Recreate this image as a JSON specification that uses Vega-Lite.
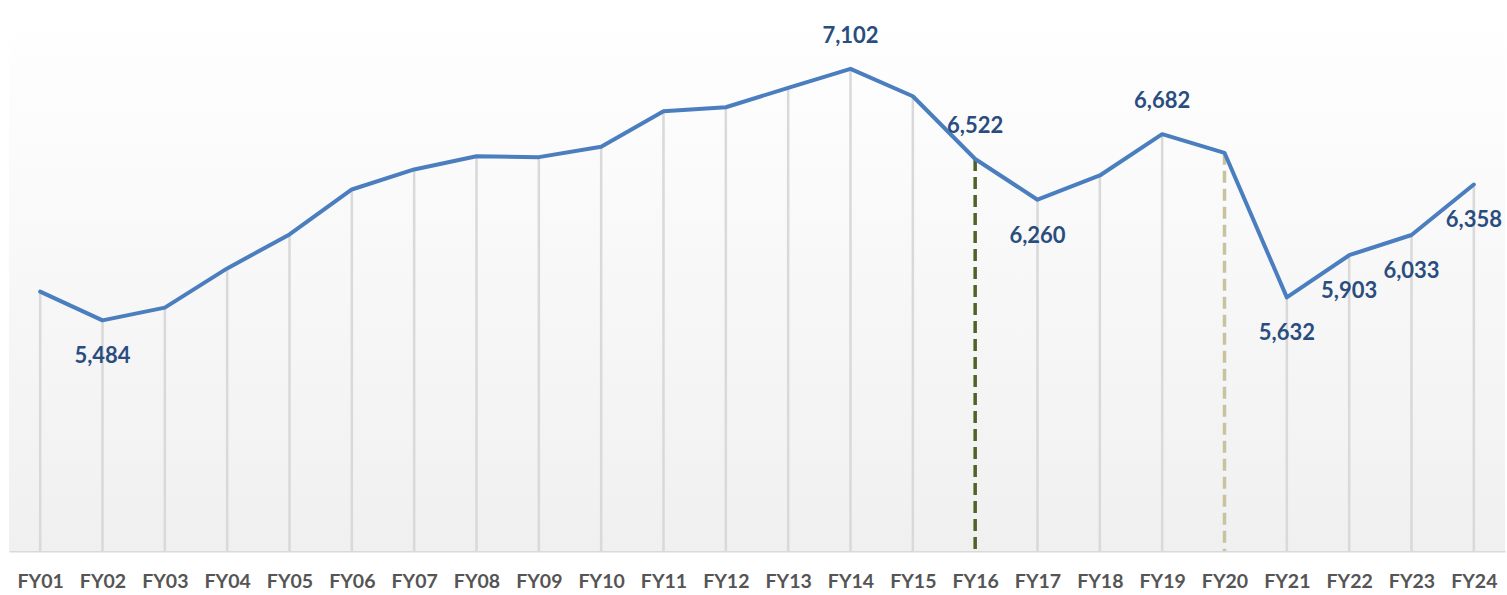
{
  "$schema": "https://vega.github.io/schema/vega-lite/v6.json",
  "width": 1496,
  "height": 544,
  "autosize": {"type": "none"},
  "padding": {"left": 9, "top": 7, "right": 2, "bottom": 44},
  "background": "#FFFFFF",
  "config": {"view": {"stroke": null}},
  "data": {
    "values": [
      {"fy": "FY01", "value": 5669},
      {"fy": "FY02", "value": 5484},
      {"fy": "FY03", "value": 5566},
      {"fy": "FY04", "value": 5818},
      {"fy": "FY05", "value": 6037},
      {"fy": "FY06", "value": 6326},
      {"fy": "FY07", "value": 6455},
      {"fy": "FY08", "value": 6540},
      {"fy": "FY09", "value": 6534},
      {"fy": "FY10", "value": 6601},
      {"fy": "FY11", "value": 6829},
      {"fy": "FY12", "value": 6855},
      {"fy": "FY13", "value": 6980},
      {"fy": "FY14", "value": 7102},
      {"fy": "FY15", "value": 6926},
      {"fy": "FY16", "value": 6522},
      {"fy": "FY17", "value": 6260},
      {"fy": "FY18", "value": 6416},
      {"fy": "FY19", "value": 6682},
      {"fy": "FY20", "value": 6562},
      {"fy": "FY21", "value": 5632},
      {"fy": "FY22", "value": 5903},
      {"fy": "FY23", "value": 6033},
      {"fy": "FY24", "value": 6358}
    ]
  },
  "encoding": {
    "x": {
      "field": "fy",
      "type": "ordinal",
      "scale": {"type": "point", "padding": 0.5},
      "axis": {
        "title": null,
        "ticks": false,
        "grid": false,
        "domainColor": "#D9D9D9",
        "domainWidth": 2,
        "labelAngle": 0,
        "labelPadding": 21,
        "labelFont": "Lato",
        "labelFontWeight": "bold",
        "labelFontSize": 19.5,
        "labelColor": "#555555"
      }
    }
  },
  "layer": [
    {
      "data": {"values": [{}]},
      "mark": {
        "type": "rect",
        "color": {
          "gradient": "linear",
          "x1": 0, "y1": 0, "x2": 0, "y2": 1,
          "stops": [
            {"offset": 0, "color": "#FFFFFF"},
            {"offset": 1, "color": "#F0F0F0"}
          ]
        }
      },
      "encoding": {
        "x": {"value": 0},
        "x2": {"value": "width"},
        "y": {"value": 0},
        "y2": {"value": "height"}
      }
    },
    {
      "transform": [{"filter": {"not": {"field": "fy", "oneOf": ["FY16", "FY20"]}}}],
      "mark": {"type": "rule", "color": "#D9D9D9", "strokeWidth": 2.5},
      "encoding": {
        "y": {"field": "value", "type": "quantitative", "scale": {"domain": [4000, 7500], "nice": false, "zero": false}, "axis": null},
        "y2": {"datum": 4000}
      }
    },
    {
      "transform": [{"filter": {"field": "fy", "equal": "FY16"}}],
      "mark": {"type": "rule", "color": "#4F6228", "strokeWidth": 3.5, "strokeDash": [12, 6]},
      "encoding": {
        "y": {"field": "value", "type": "quantitative"},
        "y2": {"datum": 4000}
      }
    },
    {
      "transform": [{"filter": {"field": "fy", "equal": "FY20"}}],
      "mark": {"type": "rule", "color": "#C9C29E", "strokeWidth": 3.5, "strokeDash": [12, 6]},
      "encoding": {
        "y": {"field": "value", "type": "quantitative"},
        "y2": {"datum": 4000}
      }
    },
    {
      "mark": {"type": "line", "color": "#4A7EBE", "strokeWidth": 4, "strokeJoin": "round", "strokeCap": "round"},
      "encoding": {
        "y": {"field": "value", "type": "quantitative"}
      }
    },
    {
      "transform": [{"filter": {"field": "fy", "oneOf": ["FY14", "FY16", "FY19"]}}],
      "mark": {"type": "text", "dy": -33, "font": "Lato", "fontWeight": "bold", "fontSize": 22, "color": "#2A4D7F", "baseline": "middle"},
      "encoding": {
        "y": {"field": "value", "type": "quantitative"},
        "text": {"field": "value", "type": "quantitative", "format": ","}
      }
    },
    {
      "transform": [{"filter": {"field": "fy", "oneOf": ["FY02", "FY17", "FY21", "FY22", "FY23", "FY24"]}}],
      "mark": {"type": "text", "dy": 36, "font": "Lato", "fontWeight": "bold", "fontSize": 22, "color": "#2A4D7F", "baseline": "middle"},
      "encoding": {
        "y": {"field": "value", "type": "quantitative"},
        "text": {"field": "value", "type": "quantitative", "format": ","}
      }
    }
  ]
}
